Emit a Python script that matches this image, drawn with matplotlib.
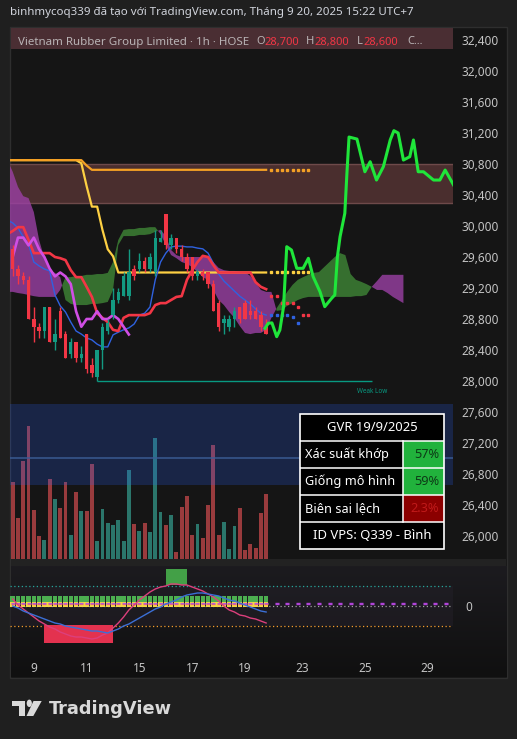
import numpy as np
import matplotlib
matplotlib.use("Agg")
import matplotlib.pyplot as plt
from matplotlib.patches import Rectangle, Polygon, Circle
from matplotlib.ticker import FuncFormatter
from matplotlib.colors import LinearSegmentedColormap

plt.rcParams['font.family'] = ['Noto Sans', 'DejaVu Sans']

# ---------------- data ----------------
opens = [29700, 29450, 29350, 29300, 28800, 28700, 28650, 28950, 28500, 28900,
         28600, 28350, 28500, 28300, 28600, 28200, 28050, 28400, 28650, 28850,
         29050, 29100, 29100, 29450, 29450, 29550, 29450, 29400, 29800, 30150,
         29750, 29850, 29700, 29600, 29600, 29350, 29400, 29400, 29250, 29000,
         28750, 28700, 28800, 28950, 29000, 28900, 28900, 28850, 28700]
highs = [29750, 29500, 29400, 29350, 28950, 28750, 28950, 28950, 28800, 28950,
         28650, 28550, 28500, 28450, 28600, 28300, 28400, 28750, 28800, 29200,
         29200, 29400, 29700, 29500, 29650, 29600, 29650, 29950, 29950, 30150,
         29900, 29850, 29750, 29650, 29600, 29450, 29450, 29400, 29300, 29050,
         28850, 28850, 28950, 28950, 29050, 29050, 28950, 28900, 28800]
lows = [29350, 29250, 29250, 28800, 28500, 28550, 28550, 28500, 28400, 28550,
        28300, 28300, 28250, 28250, 28100, 28050, 28000, 28150, 28600, 28800,
        29000, 29100, 29050, 29300, 29400, 29400, 29400, 29350, 29800, 29700,
        29700, 29650, 29550, 29400, 29300, 29300, 29300, 29200, 28900, 28650,
        28600, 28650, 28700, 28750, 28800, 28800, 28800, 28650, 28600]
closes = [29450, 29350, 29300, 28800, 28700, 28650, 28950, 28500, 28600, 28550,
          28300, 28500, 28300, 28350, 28150, 28100, 28400, 28700, 28750, 29050,
          29150, 29350, 29400, 29350, 29550, 29450, 29600, 29850, 29850, 29750,
          29850, 29700, 29600, 29450, 29350, 29400, 29350, 29250, 28900, 28700,
          28800, 28800, 28900, 28800, 28800, 28850, 28800, 28700, 28600]
volumes = [1160, 620, 1475, 2000, 735, 350, 285, 1200, 900, 770,
           1155, 360, 1005, 720, 720, 1425, 270, 750, 540, 510,
           585, 270, 1335, 525, 420, 540, 405, 1815, 705, 510,
           660, 105, 780, 945, 360, 525, 315, 810, 1710, 360,
           555, 150, 495, 765, 135, 225, 165, 690, 975]

# ichimoku-style cloud, bars -1 .. 74
span_a = [29150,
          29150, 29135, 29125, 29110, 29095, 29085, 29085, 29085, 29085, 29175,
          29340, 29340, 29355, 29355, 29370, 29370, 29380, 29380, 29395, 29535,
          29820, 29950, 29960, 29960, 29975, 29975, 29985, 29985, 29895, 29755,
          29625, 29585, 29535, 29510, 29470, 29405, 29340, 29305, 29175, 29045,
          28980, 28890, 28815, 28710, 28620, 28605, 28620, 28620, 28660, 28815,
          28940, 29045, 29150, 29240, 29305, 29340, 29370, 29395, 29405, 29470,
          29535, 29600, 29650, 29625, 29380, 29305, 29280, 29250, 29215, 29175,
          29175, 29135, 29085, 29045, 29005]
span_b = [30850,
          30700, 30505, 30385, 30360, 30180, 29820, 29585, 29430, 29395, 29340,
          29045, 28995, 28980, 28980, 28980, 28995, 28995, 29005, 29020, 29175,
          29755, 29870, 29870, 29870, 29885, 29885, 29895, 29925, 29950, 29870,
          29690, 29625, 29600, 29600, 29600, 29600, 29600, 29600, 29535, 29460,
          29430, 29420, 29420, 29405, 29405, 29355, 29275, 29175, 29150, 29150,
          28905, 28915, 28970, 29005, 29045, 29070, 29085, 29085, 29085, 29085,
          29085, 29085, 29085, 29085, 29085, 29095, 29095, 29110, 29215, 29290,
          29370, 29370, 29370, 29370, 29370]

# indicator lines, bars -1 .. 48
red_line = [29895, 29935, 29985, 29985, 29820, 29650, 29650, 29650, 29650, 29600, 29585,
            29560, 29430, 29340, 29340, 29215, 29085, 28875, 28815, 28760, 28660,
            28645, 28815, 28850, 28850, 28850, 28850, 28875, 28980, 29005, 29005,
            29045, 29085, 29095, 29305, 29430, 29535, 29615, 29600, 29495, 29400,
            29400, 29400, 29400, 29400, 29400, 29400, 29275, 29215, 29185]
blue_line = [30075, 30040, 29975, 29860, 29765, 29535, 29485, 29445, 29420, 29110, 28970,
             28890, 28760, 28645, 28605, 28555, 28530, 28475, 28440, 28440, 28595,
             28630, 28660, 28685, 28735, 28850, 28875, 28955, 29305, 29535, 29650,
             29730, 29740, 29740, 29730, 29730, 29715, 29705, 29650, 29520, 29380,
             29290, 29225, 29160, 29095, 29045, 28995, 28930, 28875, 28850]
orange_line = [30850, 30850, 30850, 30850, 30850, 30850, 30850, 30850, 30850, 30850,
               30850, 30850, 30850, 30850, 30850, 30780, 30725, 30725, 30725, 30725,
               30725, 30725, 30725, 30725, 30725, 30725, 30725, 30725, 30725, 30725,
               30725, 30725, 30725, 30725, 30725, 30725, 30725, 30725, 30725, 30725,
               30725, 30725, 30725, 30725, 30725, 30725, 30725, 30725, 30725, 30725]
yellow_line = [30850, 30850, 30850, 30850, 30850, 30850, 30850, 30850, 30850, 30850,
               30850, 30850, 30850, 30850, 30810, 30515, 30250, 30250, 29950, 29700,
               29610, 29400, 29400, 29400, 29400, 29400, 29400, 29400, 29400, 29400,
               29400, 29400, 29400, 29400, 29400, 29400, 29400, 29400, 29400, 29400,
               29400, 29400, 29400, 29400, 29400, 29400, 29400, 29400, 29400, 29400]
orange_dots = [30725, 30725, 30725, 30725, 30725, 30725, 30725, 30725]   # bars 49..56
yellow_dots = [29400, 29400, 29400, 29400, 29400, 29400, 29400, 29400]   # bars 49..56
red_dots = [29100, 29100, 29000, 29000, 29000, 28950, 28850, 28850]     # bars 49..56
blue_dots = [28850, 28850, 28850, 28850, 28820, 28750]                   # bars 49..54
chikou_shift = 26

# projected path (bar index, price)
proj_x = [47.8, 48.4, 49.1, 50.0, 50.6, 51.3, 51.9, 52.8, 53.8, 55.0, 56.0, 56.9, 58.2,
          59.1, 60.4, 61.0, 61.5, 62.0, 62.9, 63.3, 63.7, 65.2, 66.7, 67.7, 68.9, 70.2,
          71.5, 72.2, 73.0, 74.0, 75.2, 75.9, 76.8, 77.8, 79.7, 80.9, 81.9, 83.5]
proj_y = [28680, 28745, 28750, 28572, 28658, 28959, 29733, 29690, 29454, 29454, 29583,
          29346, 29152, 28959, 29067, 29110, 29604, 29862, 30164, 30680, 31148, 31122,
          30700, 30830, 30593, 30765, 31110, 31230, 31200, 30851, 30894, 31110, 30700,
          30700, 30593, 30593, 30722, 30529]

zone_low, zone_high = 30300, 30800
weak_low, weak_low_start, weak_low_end = 28000, 16, 68
vol_band_low, vol_band_high, vol_band_mid = 1110, 2325, 1520

# oscillator pane
osc_pink = [7, 1, -3, -7, -11, -15, -18, -21, -23, -26, -28, -30, -31, -31, -32, -33, -32,
            -29, -27, -22, -17, -11, -4, 1, 6, 10, 14, 17, 19, 20, 22, 22, 21, 21, 19,
            17, 15, 12, 9, 5, 0, -4, -6, -9, -10, -12, -13, -15, -17]
osc_blue = [0, -2, -5, -7, -9, -11, -13, -15, -17, -18, -20, -21, -22, -23, -24, -25, -25,
            -26, -27, -25, -23, -20, -18, -15, -12, -9, -6, -3, -1, 2, 4, 6, 9, 11, 12,
            13, 13, 12, 11, 10, 8, 6, 5, 3, 1, -1, -3, -5, -6]
osc_levels = [20, 0, -20]
red_box = (6, 19, -37, -19)
green_box = (29, 33, 21, 37)

price_ticks = [26000, 26400, 26800, 27200, 27600, 28000, 28400, 28800, 29200,
               29600, 30000, 30400, 30800, 31200, 31600, 32000, 32400]
day_labels = ["9", "11", "15", "17", "19", "23", "25", "29"]
day_pos = [4, 14, 24, 34, 44, 54.8, 66.7, 78.6]

table_title = "GVR 19/9/2025"
table_rows = [("Xác suất khớp", "57%"), ("Giống mô hình", "59%"), ("Biên sai lệch", "2.3%")]
table_footer = "ID VPS: Q339 - Bình"

# ---------------- figure ----------------
W, H = 517, 739
fig = plt.figure(figsize=(W / 100, H / 100), dpi=100, facecolor='#1f1f1f')


def add_ax(x0, y0, x1, y1, z=1):
    a = fig.add_axes([x0 / W, 1 - y1 / H, (x1 - x0) / W, (y1 - y0) / H], zorder=z)
    a.set_facecolor('none')
    return a


def fig_rect(x0, y0, x1, y1, z=0, **kw):
    fig.add_artist(Rectangle((x0 / W, 1 - y1 / H), (x1 - x0) / W, (y1 - y0) / H,
                             transform=fig.transFigure, zorder=z, **kw))


def fig_text(x, y, s, **kw):
    fig.text(x / W, 1 - y / H, s, **kw)


fig_rect(10, 27, 507, 678, z=-5, facecolor='#151515', edgecolor='#2e2e2e', lw=1)

# oscillator pane background gradient
axbg = add_ax(11, 566, 506, 677, z=-4)
axbg.imshow(np.linspace(0, 1, 100)[:, None], aspect='auto', extent=[0, 1, 0, 1],
            cmap=LinearSegmentedColormap.from_list('g', ['#1c1b1f', '#101010']))
axbg.axis('off')
fig_rect(11, 559, 506, 566, z=-3, facecolor='#222222', lw=0)

XL = (-0.511, 83.39)
x_line = np.arange(-1, -1 + len(red_line))
x_cloud = np.arange(-1, -1 + len(span_a))
xb = np.arange(len(closes))

# ---- volume ----
axv = add_ax(10, 400, 453, 559, z=1)
axv.set_xlim(*XL)
axv.set_ylim(0, 2385)
o = np.array(opens); c = np.array(closes)
up = c >= o
vcol = np.where(up, '#2b766b', '#993b3d')
axv.bar(xb, volumes, width=0.74, color=vcol, lw=0, zorder=2)
axv.axhspan(vol_band_low, vol_band_high, color='#2962ff', alpha=0.21, lw=0, zorder=3)
axv.axhline(vol_band_mid, color='#3b5d96', lw=1.3, alpha=0.8, zorder=3)
axv.axis('off')

# ---- main price pane ----
ax = add_ax(10, 28, 453, 559, z=2)
ax.set_xlim(*XL)
ax.set_ylim(25703, 32555)
for s in ax.spines.values():
    s.set_visible(False)
ax.set_xticks([])
ax.yaxis.tick_right()
ax.set_yticks(price_ticks)
ax.yaxis.set_major_formatter(FuncFormatter(lambda v, p: f"{int(v):,}"))
ax.tick_params(axis='y', length=0, pad=6.3, labelsize=8.5, labelcolor='#c4c4c4')

ax.axhspan(zone_low, zone_high, facecolor=(0.55, 0.3, 0.3, 0.45), lw=0, zorder=1)
ax.axhline(zone_low, color='#6e4a4a', lw=1, zorder=1)
ax.axhline(zone_high, color='#6e4a4a', lw=1, zorder=1)

A = np.array(span_a, float); B = np.array(span_b, float)
ax.fill_between(x_cloud, A, B, where=A >= B, interpolate=True, color='#3a7a33', alpha=0.9, lw=0, zorder=2)
ax.fill_between(x_cloud, A, B, where=A < B, interpolate=True, color='#9b40a5', alpha=0.8, lw=0, zorder=2)

ax.plot(x_line, yellow_line, color='#fdd043', lw=1.6, zorder=3)
ax.plot(x_line, orange_line, color='#f4a025', lw=1.6, zorder=3)
xd = np.arange(49, 49 + len(orange_dots))
ax.plot(xd, orange_dots, ls='none', marker='s', ms=1.7, color='#f4a025', zorder=3)
ax.plot(xd, yellow_dots, ls='none', marker='s', ms=1.7, color='#fdd043', zorder=3)
ax.plot(np.arange(49, 49 + len(red_dots)), red_dots, ls='none', marker='s', ms=1.8, color='#f23645', zorder=3)
ax.plot(np.arange(49, 49 + len(blue_dots)), blue_dots, ls='none', marker='s', ms=1.8, color='#2f62e0', zorder=3)

ax.plot(x_line, blue_line, color='#2f62e0', lw=1.0, zorder=4)
ax.plot(x_line, red_line, color='#f23645', lw=1.9, zorder=4)
chx = xb[chikou_shift:] - chikou_shift
ax.plot(chx, closes[chikou_shift:], color='#d04ee4', lw=1.9, zorder=4)

ax.hlines(weak_low, weak_low_start, weak_low_end, color='#089981', lw=1, zorder=3)
ax.text(weak_low_end, weak_low - 140, "Weak Low", color='#089981', fontsize=4.6,
        ha='center', va='center', zorder=3)

# candles
h = np.array(highs); l = np.array(lows)
ccol = np.where(up, '#139a82', '#f23645')
ax.vlines(xb, l, h, colors=ccol, lw=1, zorder=5)
body = np.maximum(np.abs(c - o), 14)
ax.bar(xb, body, bottom=np.minimum(o, c), width=0.64, color=ccol, lw=0, zorder=6)

ax.plot(proj_x, proj_y, color='#1fe63a', lw=2.2, zorder=7, solid_joinstyle='round')

# ---- oscillator ----
axo = add_ax(10, 566, 453, 650, z=2)
axo.set_xlim(*XL)
axo.set_ylim(-44, 40)
for s in axo.spines.values():
    s.set_visible(False)
axo.fill_between([XL[0], XL[1]], -20, 20, color='#221f27', alpha=0.6, lw=0, zorder=0)
axo.axhline(osc_levels[0], color='#26a69a', ls=(0, (1, 2)), lw=0.9, zorder=1)
axo.axhline(osc_levels[1], color='#a0a0a0', ls=(0, (1, 2)), lw=0.9, zorder=1)
axo.axhline(osc_levels[2], color='#f29a2e', ls=(0, (1, 2)), lw=0.9, zorder=1)
axo.fill_between(red_box[:2], red_box[2], red_box[3], color='#e3324f', lw=0, zorder=2)
axo.fill_between(green_box[:2], green_box[2], green_box[3], color='#43a047', lw=0, zorder=2)
axo.bar(xb, 5.5, bottom=4.5, width=0.84, color='#4caf50', lw=0, zorder=3)
axo.bar(xb, 5.5, bottom=-1, width=0.84, color='#f5d742', lw=0, zorder=3)
axo.plot(xb, np.full(len(xb), 3.4), ls='none', marker='_', ms=3, mew=0.9, color='#b25ee0', zorder=4)
axo.plot(xb, np.full(len(xb), 1.6), ls='none', marker='_', ms=3, mew=0.9, color='#e06090', zorder=4)
xf = np.arange(50, 84, 2)
axo.plot(xf, np.full(len(xf), 3.4), ls='none', marker='_', ms=3, mew=1, color='#b044d8', zorder=4)
axo.plot(xf, np.full(len(xf), 1.6), ls='none', marker='_', ms=3, mew=1, color='#b044d8', zorder=4)
axo.plot(xb, osc_pink, color='#dc3f7c', lw=1.0, zorder=5)
axo.plot(xb, osc_blue, color='#3b6fd6', lw=1.0, zorder=5)
axo.yaxis.tick_right()
axo.set_yticks([0])
axo.set_yticklabels(["0"])
axo.tick_params(axis='y', length=0, pad=9, labelsize=8.5, labelcolor='#c4c4c4')
axo.set_xticks(day_pos)
axo.set_xticklabels(day_labels)
axo.tick_params(axis='x', length=0, pad=9, labelsize=8.5, labelcolor='#c4c4c4')

# ---- header texts ----
fig_text(10, 13, "binhmycoq339 đã tạo với TradingView.com, Tháng 9 20, 2025 15:22 UTC+7",
         color='#d1d4dc', fontsize=8.3, va='center', ha='left')
fig_rect(10.5, 28, 453, 49, z=5, facecolor='#4a2e33', lw=0)
hdr = [(18, "Vietnam Rubber Group Limited · 1h · HOSE", '#b9b3b5', 8.3),
       (256, "O", '#b9b3b5', 8.0), (264.5, "28,700", '#f23645', 8.0),
       (306, "H", '#b9b3b5', 8.0), (314.5, "28,800", '#f23645', 8.0),
       (357, "L", '#b9b3b5', 8.0), (363.5, "28,600", '#f23645', 8.0),
       (407, "C...", '#b9b3b5', 8.0)]
for xx, s, col, fs in hdr:
    fig_text(xx, 42, s, color=col, fontsize=fs, va='center', ha='left', zorder=6)

# ---- table ----
axt = add_ax(300, 414, 444, 549, z=10)
axt.set_xlim(0, 144)
axt.set_ylim(135, 0)
axt.axis('off')
rows_y = [0, 27.4, 54, 81, 108, 135]
split = 102.7
axt.add_patch(Rectangle((0, 0), 144, 135, facecolor='black', edgecolor='none'))
cell_bg = ['#21b23c', '#21b23c', '#8b0000']
cell_fg = ['#0d3a16', '#0d3a16', '#c01a1a']
for k, (lab, val) in enumerate(table_rows):
    y0, y1 = rows_y[k + 1], rows_y[k + 2]
    axt.add_patch(Rectangle((split, y0), 144 - split, y1 - y0, facecolor=cell_bg[k], edgecolor='none'))
    axt.text(5, (y0 + y1) / 2, lab, color='white', fontsize=9.2, ha='left', va='center')
    axt.text(139, (y0 + y1) / 2, val, color=cell_fg[k], fontsize=9.2, ha='right', va='center')
for yy in rows_y[1:-1]:
    axt.plot([0, 144], [yy, yy], color='white', lw=1.1)
axt.plot([split, split], [rows_y[1], rows_y[4]], color='white', lw=1.1)
axt.add_patch(Rectangle((0, 0), 144, 135, facecolor='none', edgecolor='white', lw=1.2, clip_on=False))
axt.text(72, rows_y[0] + 13.7, table_title, color='white', fontsize=9.4, ha='center', va='center')
axt.text(72, rows_y[4] + 13.5, table_footer, color='white', fontsize=9.4, ha='center', va='center')

# ---- TradingView logo ----
logo_col = '#d9d9d9'
fig_rect(11.7, 701, 25, 706, z=6, facecolor=logo_col, lw=0)
fig_rect(18.5, 701, 25, 716, z=6, facecolor=logo_col, lw=0)
fig.add_artist(Circle((29.3 / W, 1 - 703.3 / H), 2.6 / W, transform=fig.transFigure,
                      facecolor=logo_col, lw=0, zorder=6))
fig.add_artist(Polygon([(33.5 / W, 1 - 701 / H), (41.7 / W, 1 - 701 / H),
                        (33.3 / W, 1 - 716 / H), (26.5 / W, 1 - 716 / H)],
                       closed=True, transform=fig.transFigure, facecolor=logo_col, lw=0, zorder=6))
fig_text(49, 709, "TradingView", color=logo_col, fontsize=12.8, fontweight='bold',
         family=['DejaVu Sans'], va='center', ha='left')

fig.savefig("out.png", dpi=100, facecolor=fig.get_facecolor())
